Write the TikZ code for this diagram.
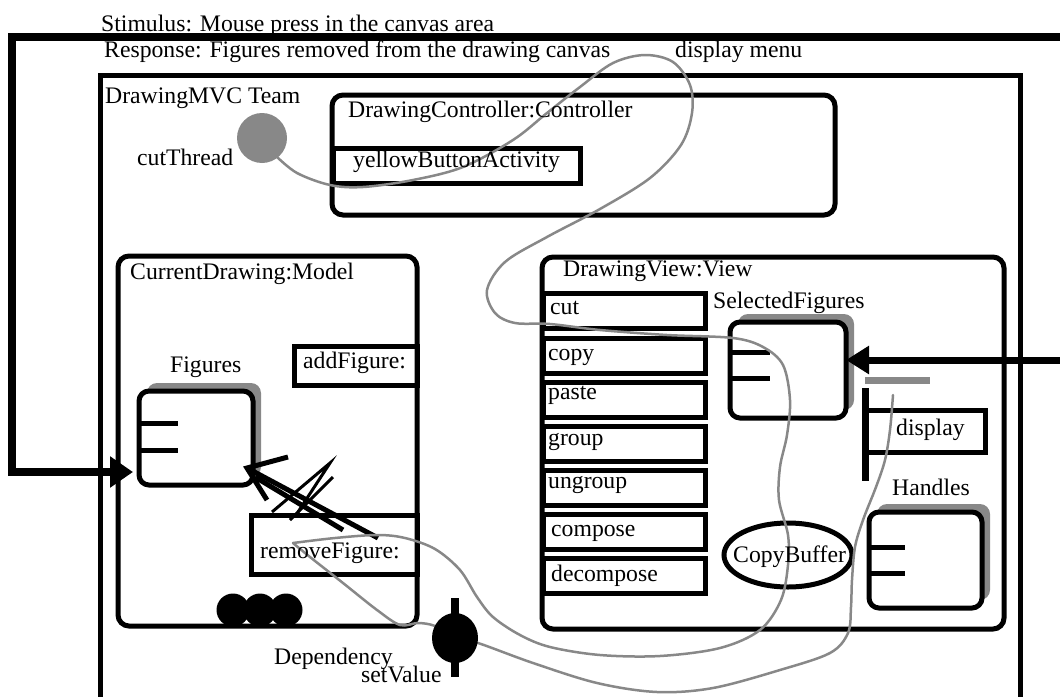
\documentclass[tikz,border=0pt]{standalone}
\usepackage{fontspec}
\setmainfont{Liberation Serif}
\usetikzlibrary{arrows.meta,shapes.geometric,shadows}
\definecolor{ucmgray}{HTML}{888888}
\begin{document}
\begin{tikzpicture}[x=1pt,y=-1pt,
  lbl/.style={anchor=base west,inner sep=0pt,font=\fontsize{23.7}{28}\selectfont},
  frame/.style={draw,line width=5pt,inner sep=0pt,outer sep=0pt},
  comp/.style={frame,rounded corners=11pt},
  slot/.style={frame},
  pool/.style={frame,rounded corners=10pt,fill=white,
    drop shadow={shadow xshift=8pt,shadow yshift=8pt,shadow scale=1,opacity=1,fill=ucmgray}},
  ucmpath/.style={draw=ucmgray,line width=2.5pt,line cap=round,line join=round},
  stim/.style={line width=7.5pt,line join=miter,-{Triangle[length=23pt,width=30pt]}},
  tick/.style={line width=5pt},
  dot/.style={circle,fill,inner sep=0pt,minimum size=33pt}]
\useasboundingbox (0,0) rectangle (1060,696);
\clip (0,0) rectangle (1060,696);

% team boundary
\draw[line width=5pt] (100,75) rectangle (1020,730);

% components
\node[comp,minimum width=503pt,minimum height=120pt] (ctrl) at (583.5,155) {};
\node[slot,minimum width=247pt,minimum height=35pt] (yba) at (456.5,165.5) {};
\node[comp,minimum width=299pt,minimum height=370pt] (model) at (267.5,441) {};
\node[slot,minimum width=123pt,minimum height=39pt] (addf) at (355.5,365.5) {};
\node[slot,minimum width=166pt,minimum height=59pt] (remf) at (334,544.5) {};
\node[comp,minimum width=462pt,minimum height=372pt] (view) at (773,443) {};

% view menu slots
\foreach \n/\c in {cut/310.5,copy/355.5,paste/399.5,group/443.5,ungroup/487.5,compose/531.5,decompose/575.5}
  \node[slot,minimum width=162pt,minimum height=35pt] (m-\n) at (624,\c) {};

% pools with shadow
\node[pool,minimum width=114pt,minimum height=94pt] (figs) at (196,438) {};
\node[pool,minimum width=116pt,minimum height=96pt] (sel) at (788,370) {};
\node[pool,minimum width=113pt,minimum height=96pt] (hand) at (925.5,560) {};
\draw[tick] (figs.north west) ++(0,32) -- ++(39,0);
\draw[tick] (figs.north west) ++(0,59) -- ++(39,0);
\draw[tick] (sel.north west) ++(0,30) -- ++(40,0);
\draw[tick] (sel.north west) ++(0,56) -- ++(40,0);
\draw[tick] (hand.north west) ++(0,35) -- ++(36,0);
\draw[tick] (hand.north west) ++(0,61) -- ++(36,0);

% display slot with bars
\node[slot,minimum width=120pt,minimum height=42pt] (disp) at (925,431) {};
\coordinate (dispbarTop) at (865,388);
\coordinate (dispbarBot) at (865,481);
\draw[line width=7pt] (dispbarTop) -- (dispbarBot);
\coordinate (endbarL) at (865,380);
\coordinate (endbarR) at (930,380);
\draw[ucmgray,line width=7pt] (endbarL) -- (endbarR);

% copy buffer
\node[ellipse,draw,line width=5pt,inner sep=0pt,minimum width=128pt,minimum height=64pt] (cb) at (788,555) {};

% stimulus and external arrows
\coordinate (stimStart) at (1075,37);
\draw[stim] (stimStart) -- (12,37) -- (12,472) -- ([xshift=-6pt]figs.west |- 0,472);
\coordinate (extIn) at (1075,360);
\draw[stim,line width=7pt,-{Triangle[length=23pt,width=27pt]}] (extIn) -- (sel.east |- 0,360);

% responsibility arrow from removeFigure: to Figures
\coordinate (tip) at (247,468);
\draw[line width=5pt] (288,457) -- (tip) -- (267,500);
\draw[line width=5pt] (tip) -- (378,538);
\draw[line width=5pt] (255,477) -- (343,530);
\draw[line width=3pt] (272,512) -- (330,463) -- (298,512);
\draw[line width=3pt] (290,520) -- (333,477);

% scenario path
\draw[ucmpath] plot[smooth,tension=0.55] coordinates {
 (276,156) (297,173) (330,185) (363,187) (413,180) (463,167) (513,140) (547,113)
 (580,87) (613,63) (645,55) (673,62) (690,85) (692,113) (681,145) (650,178)
 (600,209) (547,237) (505,262) (487,290) (495,313) (515,323) (550,324) (600,330)
 (667,335) (733,338) (763,347) (783,365) (790,400) (787,435) (780,467) (779,500)
 (788,535) (788,565) (781,600) (760,630) (720,648) (660,656) (600,655) (550,647)
 (520,635) (493,617) (477,597) (460,570) (435,549) (405,538) (377,535) (335,538)
 (293,543)};
\draw[ucmpath] plot[smooth,tension=0.55] coordinates {
 (293,543) (310,557) (343,583) (377,610) (400,625) (418,623) (435,626) (455,638)};
\draw[ucmpath] plot[smooth,tension=0.55] coordinates {
 (455,638) (478,643) (533,663) (597,683) (657,692) (713,688) (780,670) (830,653)
 (848,633) (851,607) (852,580) (855,547) (863,520) (876,487) (885,460) (890,430)
 (893,395)};

% start point, stubs and waiting place
\node[circle,fill=ucmgray,inner sep=0pt,minimum size=50pt] (start) at (262,138) {};
\node[dot] (d1) at (233,610) {};
\node[dot] (d2) at (260,610) {};
\node[dot] (d3) at (286,610) {};
\node[ellipse,fill,inner sep=0pt,minimum width=46pt,minimum height=50pt] (dep) at (455,638) {};
\draw[line width=8pt] (dep.center) ++(0,-40) -- ++(0,79);

% labels
\node[lbl] (stimulus) at (101,31) {Stimulus: Mouse press in the canvas area};
\node[lbl] (response) at (104,57) {Response: Figures removed from the drawing canvas};
\node[lbl] (dmenu) at (675,57) {display menu};
\node[lbl] (team) at (105,103) {DrawingMVC Team};
\node[lbl] (cutthread) at (137,165) {cutThread};
\node[lbl] (ctrl-l) at (348,117) {DrawingController:Controller};
\node[lbl] (yba-l) at (353,167) {yellowButtonActivity};
\node[lbl] (model-l) at (130,279) {CurrentDrawing:Model};
\node[lbl] (figs-l) at (170,372) {Figures};
\node[lbl] (addf-l) at (303,368) {addFigure:};
\node[lbl] (remf-l) at (260,558) {removeFigure:};
\node[lbl] (dep-l) at (274,664) {Dependency};
\node[lbl] (setv-l) at (361,682) {setValue};
\node[lbl] (view-l) at (563,276) {DrawingView:View};
\node[lbl] (sel-l) at (713,308) {SelectedFigures};
\node[lbl] at (550,314) {cut};
\node[lbl] at (548,360) {copy};
\node[lbl] at (548,399) {paste};
\node[lbl] at (548,445) {group};
\node[lbl] at (548,488) {ungroup};
\node[lbl] at (551,536) {compose};
\node[lbl] at (551,581) {decompose};
\node[lbl] (cb-l) at (733,562) {CopyBuffer};
\node[lbl] (disp-l) at (896,435) {display};
\node[lbl] (hand-l) at (892,495) {Handles};
\end{tikzpicture}
\end{document}
